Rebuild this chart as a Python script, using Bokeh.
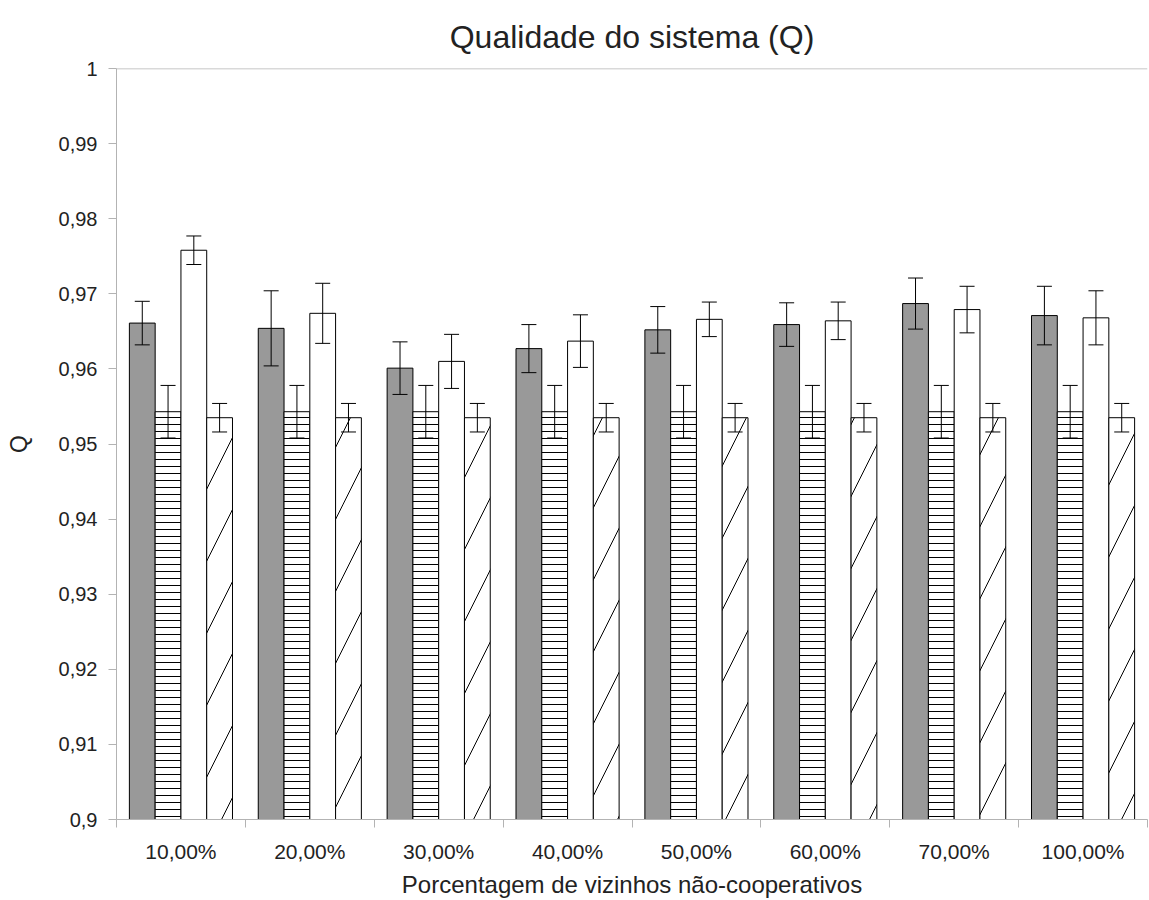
from bokeh.plotting import figure
from bokeh.models import (ColumnDataSource, FactorRange, Range1d, LinearAxis, CategoricalAxis,
                          FixedTicker, Whisker, TeeHead, Span)
from bokeh.transform import dodge
from bokeh.embed import file_html
from bokeh.resources import INLINE

categories = ["10,00%", "20,00%", "30,00%", "40,00%", "50,00%", "60,00%", "70,00%", "100,00%"]

s1_vals = [0.9661, 0.9654, 0.9601, 0.9627, 0.9652, 0.9659, 0.9687, 0.9671]
s1_err = [0.0029, 0.0050, 0.0035, 0.0032, 0.0031, 0.0029, 0.0034, 0.0039]
s2_vals = [0.9543] * 8
s2_err = [0.0035] * 8
s3_vals = [0.9758, 0.9674, 0.9610, 0.9637, 0.9666, 0.9664, 0.9679, 0.9668]
s3_err = [0.0019, 0.0040, 0.0036, 0.0035, 0.0023, 0.0025, 0.0031, 0.0036]
s4_vals = [0.9535] * 8
s4_err = [0.0019] * 8

y_ticks = [0.90, 0.91, 0.92, 0.93, 0.94, 0.95, 0.96, 0.97, 0.98, 0.99, 1.00]
y_tick_labels = ["0,9", "0,91", "0,92", "0,93", "0,94", "0,95", "0,96", "0,97", "0,98", "0,99", "1"]

FONT = "Liberation Sans"
TXT = "#222222"
AX = "#b3b3b3"
Y0 = 0.9

p = figure(width=1149, height=900, x_range=FactorRange(*categories, range_padding=0),
           y_range=Range1d(0.9, 1.0), output_backend="svg", toolbar_location=None,
           x_axis_type=None, y_axis_type=None,
           min_border_left=116, min_border_right=2, min_border_top=68, min_border_bottom=80)
p.outline_line_color = None
p.title.text = "Qualidade do sistema (Q)"
p.title.text_font = FONT
p.title.text_font_size = "32px"
p.title.text_font_style = "normal"
p.title.text_color = TXT
p.title.align = "center"
p.title.standoff = 28

# y axis
yax = LinearAxis(ticker=FixedTicker(ticks=y_ticks, minor_ticks=[]))
yax.major_label_overrides = {t: l for t, l in zip(y_ticks, y_tick_labels)}
yax.axis_line_color = AX
yax.major_tick_line_color = AX
yax.major_tick_out = 8
yax.major_tick_in = 0
yax.minor_tick_line_color = None
yax.major_label_text_font = FONT
yax.major_label_text_font_size = "20px"
yax.major_label_text_color = TXT
yax.major_label_standoff = 11
yax.axis_label = "Q"
yax.axis_label_text_font = FONT
yax.axis_label_text_font_size = "23px"
yax.axis_label_text_font_style = "normal"
yax.axis_label_text_color = TXT
yax.axis_label_standoff = 24
p.add_layout(yax, "left")

# bottom tick axis (ticks at category boundaries, in the factor range's synthetic coordinates)
tax = LinearAxis(ticker=FixedTicker(ticks=list(range(len(categories) + 1)), minor_ticks=[]))
tax.axis_line_color = AX
tax.major_tick_line_color = AX
tax.major_tick_out = 8
tax.major_tick_in = 0
tax.minor_tick_line_color = None
tax.major_label_text_font_size = "0px"
tax.major_label_text_color = None
tax.major_label_standoff = 0
p.add_layout(tax, "below")

cax = CategoricalAxis()
cax.axis_line_color = None
cax.major_tick_line_color = None
cax.minor_tick_line_color = None
cax.major_label_text_font = FONT
cax.major_label_text_font_size = "21px"
cax.major_label_text_color = TXT
cax.major_label_standoff = 6
cax.axis_label = "Porcentagem de vizinhos não-cooperativos"
cax.axis_label_text_font = FONT
cax.axis_label_text_font_size = "24px"
cax.axis_label_text_font_style = "normal"
cax.axis_label_text_color = TXT
cax.axis_label_standoff = 5
p.add_layout(cax, "below")

p.xgrid.visible = False
p.ygrid.visible = False
p.add_layout(Span(location=1.0, dimension="width", line_color=AX, line_width=1.5, level="overlay"))

series = [
    (s1_vals, s1_err, -0.3, dict(fill_color="#999999")),
    (s2_vals, s2_err, -0.1, dict(fill_color="white", hatch_pattern="-", hatch_scale=7, hatch_color="black", hatch_weight=1)),
    (s3_vals, s3_err, 0.1, dict(fill_color="white")),
    (s4_vals, s4_err, 0.3, dict(fill_color="white", hatch_pattern="/", hatch_scale=72, hatch_color="black", hatch_weight=1)),
]

for vals, err, off, style in series:
    src = ColumnDataSource(dict(
        cat=categories, top=vals,
        upper=[v + e for v, e in zip(vals, err)],
        lower=[v - e for v, e in zip(vals, err)],
    ))
    p.vbar(x=dodge("cat", off, range=p.x_range), top="top", bottom=Y0, width=0.2, source=src,
           line_color="black", line_width=1, **style)
    w = Whisker(base=dodge("cat", off, range=p.x_range), upper="upper", lower="lower", source=src,
                line_color="black", line_width=1, level="overlay",
                upper_head=TeeHead(size=15, line_color="black", line_width=1),
                lower_head=TeeHead(size=15, line_color="black", line_width=1))
    p.add_layout(w)

open("out.html", "w").write(file_html(p, INLINE))
